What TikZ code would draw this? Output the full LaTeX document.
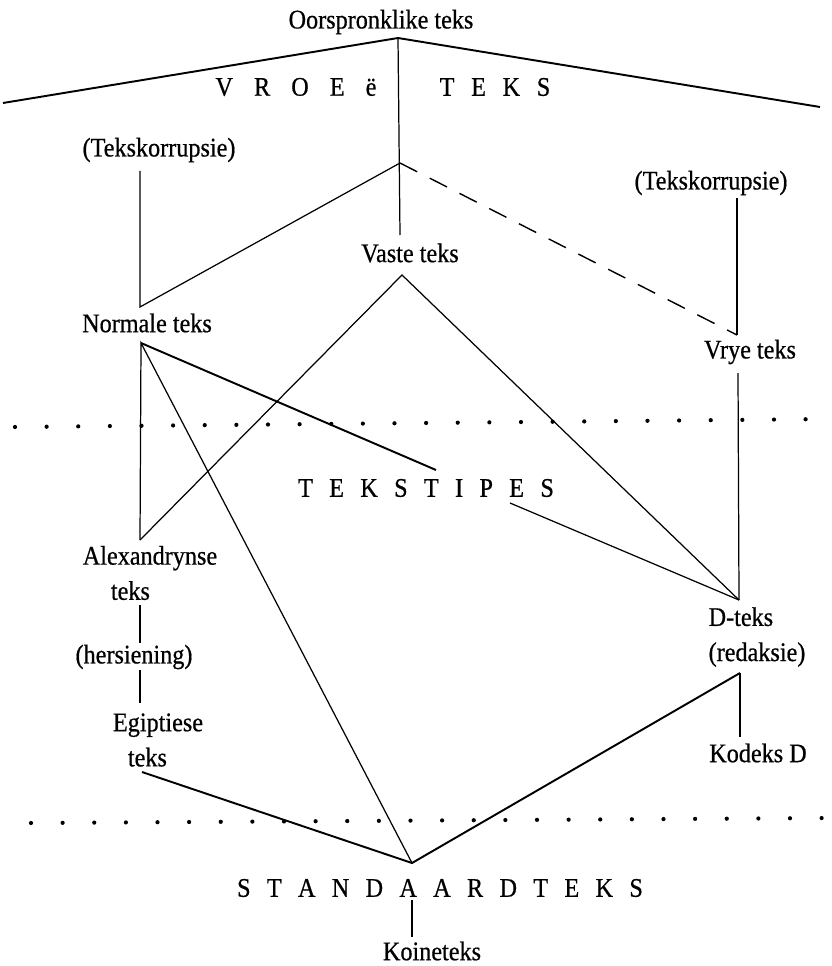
\documentclass[tikz,border=0pt]{standalone}
\usepackage{fontspec}
\setmainfont[FakeStretch=0.9,FakeBold=0.6]{Liberation Serif}
\usetikzlibrary{positioning}
\newcommand\lbl{\fontsize{15.3}{20}\selectfont}

\begin{document}
\begin{tikzpicture}[x=0.02cm,y=-0.02cm,
 lab/.style={inner sep=0pt,font=\lbl},
 labtwo/.style={lab,align=left},
 spread/.style={inner sep=0pt,font={\lbl\spaceskip=#1\relax}},
 thin line/.style={line width=0.7pt},
 thick line/.style={line width=1.1pt},
 gap line/.style={line width=0.8pt,dash pattern=on 11pt off 8pt},
 dot line/.style={line width=2.4pt,line cap=round,dash pattern=on 0pt off 18pt}]
\useasboundingbox (0,0) rectangle (831,966);
\node[lab] (orig) at (381,22) {Oorspronklike teks};
\node[spread=12pt] (vroe) at (296,87) {V R O E ë};
\node[spread=9.5pt] (teks) at (495,87) {T E K S};
\node[lab] (korl) at (159,150) {(Tekskorrupsie)};
\node[lab] (korr) at (711,183) {(Tekskorrupsie)};
\node[lab] (vaste) at (410,253) {Vaste teks};
\node[lab] (norm) at (147,323) {Normale teks};
\node[lab] (vrye) at (750,352) {Vrye teks};
\node[spread=9.3pt] (tipes) at (426,488) {T E K S T I P E S};
\node[labtwo] (alex) at (150,573) {Alexandrynse\\\hspace*{16pt}teks};
\node[lab] (hers) at (134,657) {(hersiening)};
\node[labtwo] (egip) at (158,740) {Egiptiese\\\hspace*{8.5pt}teks};
\node[labtwo] (dteks) at (757,637) {D-teks\\(redaksie)};
\node[lab] (kod) at (758,753) {Kodeks D};
\node[spread=9.3pt] (std) at (440,888) {S T A N D A A R D T E K S};
\node[lab] (koine) at (432,951) {Koineteks};

\coordinate (apex) at (398,38);
\coordinate (lend) at (3,103);
\coordinate (rend) at (820,107);
\coordinate (jn) at (400,163);
\coordinate (vtop) at (400,235);
\coordinate (kl) at (140,171);
\coordinate (nt) at (140,307);
\coordinate (kr) at (737,198);
\coordinate (vr) at (737,335);
\coordinate (vb) at (402,275);
\coordinate (nb) at (141,343);
\coordinate (al) at (140,540);
\coordinate (ts1) at (436,470);
\coordinate (ts2) at (510,503);
\coordinate (vrb) at (738,373);
\coordinate (dd) at (739,600);
\coordinate (dr) at (740,673);
\coordinate (kd) at (740,737);
\coordinate (st) at (412,863);
\coordinate (eg) at (142,772);
\coordinate (ax1) at (140,605);
\coordinate (ax2) at (140,643);
\coordinate (hs1) at (140,670);
\coordinate (hs2) at (140,703);
\coordinate (ko1) at (412,900);
\coordinate (ko2) at (412,937);
\coordinate (d1l) at (15,427);
\coordinate (d1r) at (831,419);
\coordinate (d2l) at (31,823);
\coordinate (d2r) at (831,818);

\draw[thick line] (lend) -- (apex) -- (rend);
\draw[thin line] (apex) -- (vtop);
\draw[thin line] (kl) -- (nt) -- (jn);
\draw[gap line] (jn) -- (vr);
\draw[thin line] (kr) -- (vr);
\draw[thin line] (al) -- (nb) -- (st);
\draw[thick line] (nb) -- (ts1);
\draw[thin line] (al) -- (vb) -- (dd);
\draw[thin line] (ts2) -- (dd);
\draw[thin line] (vrb) -- (dd);
\draw[thin line] (ax1) -- (ax2);
\draw[thin line] (hs1) -- (hs2);
\draw[thick line] (eg) -- (st) -- (dr);
\draw[thin line] (dr) -- (kd);
\draw[thin line] (ko1) -- (ko2);
\draw[dot line] (d1l) -- (d1r);
\draw[dot line] (d2l) -- (d2r);
\end{tikzpicture}
\end{document}
